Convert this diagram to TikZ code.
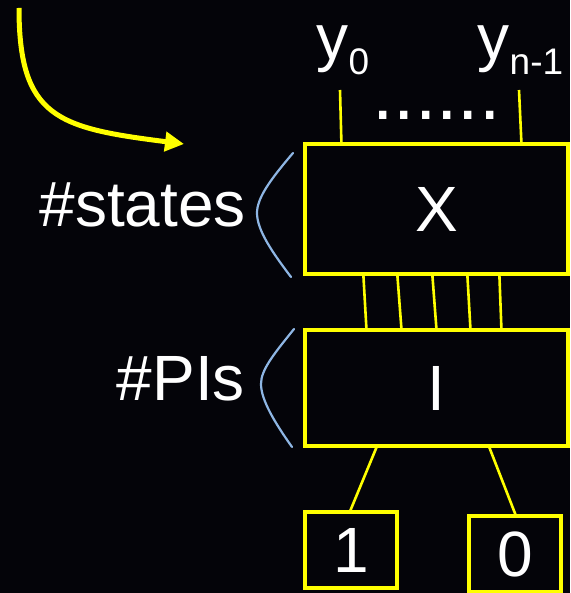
\documentclass[tikz,border=0pt]{standalone}
\usepackage{fontspec}
\setmainfont{Liberation Sans}
\usetikzlibrary{arrows.meta}

\definecolor{bgdark}{RGB}{4,4,9}
\definecolor{wireyellow}{RGB}{255,255,0}
\definecolor{bracelblue}{RGB}{142,182,228}

\newcommand\lblfont{\fontsize{64pt}{70pt}\selectfont}
\newcommand\subfont{\fontsize{37pt}{42pt}\selectfont}
\newcommand\dotfont{\fontsize{77pt}{80pt}\selectfont}

\tikzset{
  blockbox/.style={draw=wireyellow, line width=3.2pt, fill=bgdark,
    text=white, font=\lblfont, inner sep=0pt},
  wire/.style={draw=wireyellow, line width=2.6pt},
  brace/.style={draw=bracelblue, line width=2.2pt, line cap=round},
  lbl/.style={text=white, font=\lblfont, inner sep=0pt},
}

\begin{document}
\begin{tikzpicture}[x=1pt, y=-1pt]
  % canvas
  \fill[bgdark] (0,0) rectangle (570,593);
  \useasboundingbox (0,0) rectangle (570,593);

  % blocks
  \node[blockbox, minimum width=263pt, minimum height=130pt] (X) at (436.5,209) {X};
  \node[blockbox, minimum width=263pt, minimum height=116pt] (I) at (436.5,388) {I};
  \node[blockbox, minimum width=92pt, minimum height=76pt] (one) at (351,550) {1};
  \node[blockbox, minimum width=92pt, minimum height=76pt] (zero) at (515,554) {0};

  % output labels and their wires
  \node[lbl, anchor=base west] (y0) at (316.5,60) {y\raisebox{-15pt}{\subfont 0}};
  \node[lbl, anchor=base west] (yn) at (477.5,60) {y\raisebox{-15pt}{\subfont n-1}};
  \node[text=white, font=\dotfont, inner sep=0pt, anchor=base] (dots) at (436.5,120) {......};
  \coordinate (y0end) at (340,90);
  \coordinate (ynend) at (519,90);
  \draw[wire] (y0end) -- ([xshift=38pt]X.north west);
  \draw[wire] (ynend) -- ([xshift=218pt]X.north west);

  % bus between X and I
  \foreach \a/\b in {60/63, 94/98, 129/133, 164/167, 196/198}
    \draw[wire] ([xshift=\a pt]X.south west) -- ([xshift=\b pt]I.north west);

  % branches to the terminals
  \draw[wire] ([xshift=73pt]I.south west) -- ([xshift=47pt]one.north west);
  \draw[wire] ([xshift=186pt]I.south west) -- ([xshift=48pt]zero.north west);

  % side labels with braces
  \node[lbl, anchor=base east] (nstates) at (246,227) {\#states};
  \node[lbl, anchor=base east] (npis) at (245,400) {\#PIs};
  \draw[brace] (293,153) .. controls (270,180) and (257,198) .. (257,213)
                        .. controls (257,230) and (272,252) .. (291,277);
  \draw[brace] (294,329) .. controls (273,355) and (261,370) .. (261,384)
                        .. controls (261,400) and (275,423) .. (292,447);

  % pointer arrow
  \coordinate (arrstart) at (19,8);
  \coordinate (arrend) at (184,144);
  \draw[wireyellow, line width=5pt,
        -{Triangle[length=19pt, width=19pt]}]
    (arrstart) .. controls (19,118) and (58,128) .. (arrend);
\end{tikzpicture}
\end{document}
